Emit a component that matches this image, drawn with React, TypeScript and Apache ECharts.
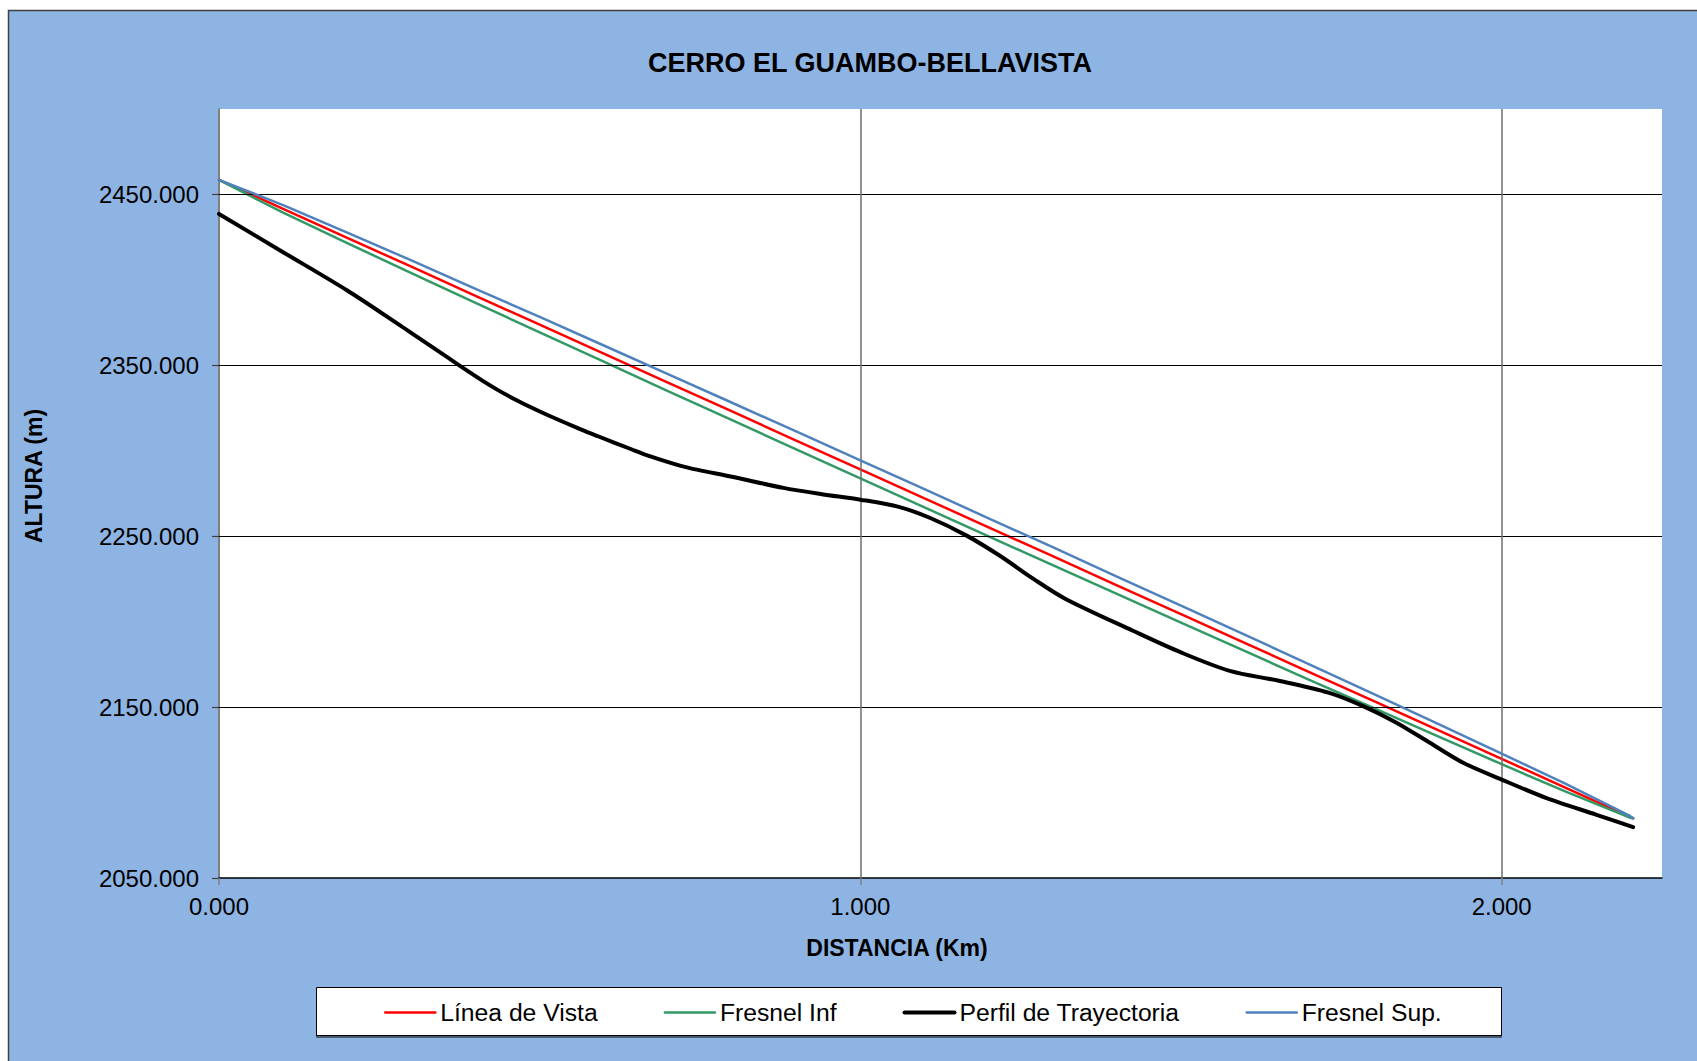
import React, { useEffect, useRef } from "react";
import * as echarts from "echarts";

const TITLE = "CERRO EL GUAMBO-BELLAVISTA";
const X_NAME = "DISTANCIA (Km)";
const Y_NAME = "ALTURA (m)";
const SERIES_NAMES = ["Línea de Vista", "Fresnel Inf", "Perfil de Trayectoria", "Fresnel Sup."];
const SERIES_COLORS = ["#FF0000", "#339966", "#000000", "#4F81BD"];

// distance (km) for line of sight and Fresnel limits
const distKm = [0, 0.1, 0.2, 0.3, 0.4, 0.5, 0.6, 0.7, 0.8, 0.9, 1.0, 1.1, 1.2, 1.3, 1.4, 1.5, 1.6, 1.7, 1.8, 1.9, 2.0, 2.1, 2.2, 2.205];
const lineOfSight = [2458.5, 2441.6, 2424.6, 2407.7, 2390.7, 2373.8, 2356.9, 2339.9, 2323.0, 2306.0, 2289.1, 2272.2, 2255.2, 2238.3, 2221.3, 2204.4, 2187.5, 2170.5, 2153.6, 2136.7, 2119.7, 2102.8, 2085.8, 2085.0];
const fresnelInf = [2458.5, 2439.3, 2421.5, 2404.0, 2386.6, 2369.3, 2352.2, 2334.9, 2317.9, 2300.8, 2283.8, 2266.9, 2249.9, 2233.1, 2216.2, 2199.4, 2182.7, 2166.0, 2149.5, 2133.0, 2116.6, 2100.5, 2085.3, 2085.0];
const fresnelSup = [2458.5, 2443.8, 2427.7, 2411.4, 2394.8, 2378.3, 2361.6, 2344.9, 2328.1, 2311.3, 2294.4, 2277.5, 2260.5, 2243.6, 2226.4, 2209.4, 2192.3, 2175.0, 2157.7, 2140.4, 2122.8, 2105.1, 2086.3, 2085.0];

// terrain profile
const profileKm = [0, 0.1, 0.2, 0.28, 0.306, 0.357, 0.384, 0.41, 0.435, 0.461, 0.487, 0.513, 0.565, 0.591, 0.643, 0.669, 0.72, 0.747, 0.8, 0.88, 0.94, 1.0, 1.06, 1.11, 1.165, 1.217, 1.27, 1.32, 1.425, 1.5, 1.576, 1.654, 1.73, 1.784, 1.836, 1.888, 1.94, 2.0, 2.07, 2.148, 2.205];
const profileAlt = [2438.6, 2416.2, 2393.8, 2374.0, 2367.4, 2354.5, 2347.6, 2341.2, 2335.5, 2330.2, 2325.3, 2320.8, 2312.4, 2308.5, 2300.9, 2297.2, 2291.2, 2288.8, 2284.8, 2278.3, 2274.6, 2271.4, 2267.2, 2260.5, 2250.5, 2238.7, 2225.0, 2213.3, 2194.7, 2182.0, 2171.2, 2165.3, 2158.5, 2150.6, 2140.9, 2129.1, 2117.4, 2107.6, 2096.8, 2087.0, 2079.8];

const xTicks = [0, 1, 2];
const yTicks = [2050, 2150, 2250, 2350, 2450];
const X_MIN = 0;
const X_MAX = 2.25;
const Y_MIN = 2050;
const Y_MAX = 2500;

const FONT = "'Liberation Sans', Arial, sans-serif";

export default function App() {
  const ref = useRef<HTMLDivElement>(null);

  useEffect(() => {
    if (!ref.current) return;
    const chart = echarts.init(ref.current, null, { renderer: "svg" });
    const zip = (xs: number[], ys: number[]) => xs.map((x, i) => [x, ys[i]]);
    const lineData = [
      zip(distKm, lineOfSight),
      zip(distKm, fresnelInf),
      zip(profileKm, profileAlt),
      zip(distKm, fresnelSup),
    ];
    const widths = [2.5, 2.5, 4, 2.5];

    const option: any = {
      animation: false,
      backgroundColor: "transparent",
      textStyle: { fontFamily: FONT },
      grid: {
        left: 219,
        top: 109,
        right: 35,
        bottom: 183,
        show: true,
        backgroundColor: "#FFFFFF",
        borderWidth: 0,
        containLabel: false,
      },
      xAxis: {
        type: "value",
        min: X_MIN,
        max: X_MAX,
        axisLine: { show: true, onZero: false, lineStyle: { color: "#000000", width: 1.5 } },
        axisTick: { show: true, length: 7, customValues: xTicks, lineStyle: { color: "#808080", width: 1.5 } },
        axisLabel: {
          customValues: xTicks,
          formatter: (v: number) => v.toFixed(3),
          fontSize: 24,
          color: "#000000",
          fontFamily: FONT,
          margin: 16,
        },
        splitLine: { show: false },
      },
      yAxis: {
        type: "value",
        min: Y_MIN,
        max: Y_MAX,
        axisLine: { show: true, lineStyle: { color: "#808080", width: 2 } },
        axisTick: { show: true, length: 7, customValues: yTicks, lineStyle: { color: "#404040", width: 1.2 } },
        axisLabel: {
          customValues: yTicks,
          formatter: (v: number) => v.toFixed(3),
          fontSize: 24,
          color: "#000000",
          fontFamily: FONT,
          margin: 20,
        },
        splitLine: { show: false },
      },
      legend: {
        left: 384,
        top: 1000,
        padding: 0,
        itemWidth: 50,
        itemHeight: 14,
        itemGap: 66,
        itemStyle: { opacity: 0 },
        textStyle: { fontSize: 24.7, color: "#000000", fontFamily: FONT },
        data: SERIES_NAMES.map((name, i) => ({
          name,
          lineStyle: { color: SERIES_COLORS[i], width: widths[i], opacity: 1 },
          itemStyle: { opacity: 0 },
        })),
      },
      graphic: [
        {
          type: "rect",
          z: -1,
          silent: true,
          shape: { x: 8.5, y: 10.5, width: 1740, height: 1100 },
          style: { fill: "#8EB4E3", stroke: "#404040", lineWidth: 1.5 },
        },
        {
          type: "rect",
          z: 0,
          silent: true,
          shape: { x: 316.5, y: 987.5, width: 1185, height: 48 },
          style: {
            fill: "#FFFFFF",
            stroke: "#000000",
            lineWidth: 1,
            shadowColor: "rgba(0,0,0,0.5)",
            shadowOffsetY: 2,
            shadowBlur: 1,
          },
        },
        {
          type: "text",
          x: 870,
          y: 63,
          silent: true,
          style: {
            text: TITLE,
            fill: "#000000",
            font: `bold 27px ${FONT}`,
            align: "center",
            verticalAlign: "middle",
            textAlign: "center",
            textVerticalAlign: "middle",
          },
        },
        {
          type: "text",
          x: 897,
          y: 948,
          silent: true,
          style: {
            text: X_NAME,
            fill: "#000000",
            font: `bold 23px ${FONT}`,
            align: "center",
            verticalAlign: "middle",
            textAlign: "center",
            textVerticalAlign: "middle",
          },
        },
        {
          type: "text",
          x: 34,
          y: 476,
          rotation: Math.PI / 2,
          silent: true,
          style: {
            text: Y_NAME,
            fill: "#000000",
            font: `bold 23px ${FONT}`,
            align: "center",
            verticalAlign: "middle",
            textAlign: "center",
            textVerticalAlign: "middle",
          },
        },
      ],
      series: [
        {
          name: "grid-lines",
          type: "line",
          data: [],
          z: 1,
          silent: true,
          markLine: {
            silent: true,
            symbol: "none",
            label: { show: false },
            animation: false,
            data: [
              ...yTicks.slice(1).map((v) => ({ yAxis: v, lineStyle: { color: "#000000", width: 1, type: "solid" } })),
              ...xTicks.slice(1).map((v) => ({ xAxis: v, lineStyle: { color: "#6E6E6E", width: 1.5, type: "solid" } })),
            ],
          },
        },
        ...SERIES_NAMES.map((name, i) => ({
          name,
          type: "line",
          data: lineData[i],
          z: 3 + i,
          smooth: i === 2 ? 0.3 : false,
          symbol: "none",
          showSymbol: false,
          color: SERIES_COLORS[i],
          lineStyle: { color: SERIES_COLORS[i], width: widths[i], join: "round", cap: "round" },
        })),
      ],
    };

    chart.setOption(option);
    return () => chart.dispose();
  }, []);

  return (
    <div
      ref={ref}
      style={{ position: "fixed", left: 0, top: 0, width: 1697, height: 1061, background: "#FFFFFF" }}
    />
  );
}
